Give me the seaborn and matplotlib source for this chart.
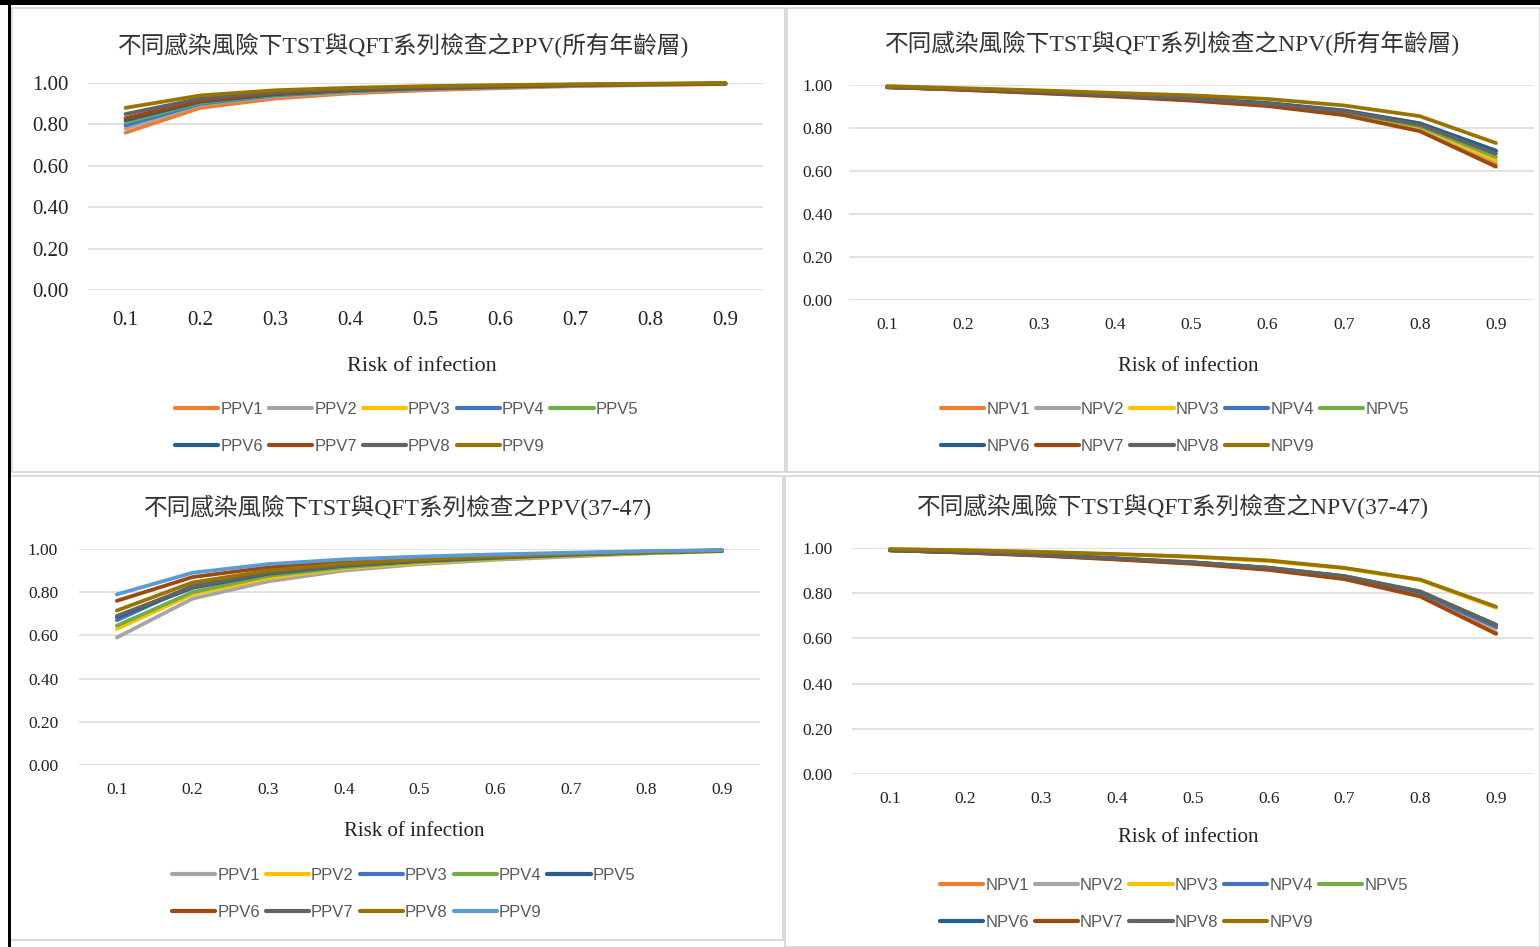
import numpy as np
import pandas as pd
import matplotlib
matplotlib.use("Agg")
import matplotlib.pyplot as plt
from matplotlib.lines import Line2D
import seaborn as sns

sns.set_theme(style="white")

# ---------------- data ----------------
risk = [0.1, 0.2, 0.3, 0.4, 0.5, 0.6, 0.7, 0.8, 0.9]
risk_labels = ["0.1", "0.2", "0.3", "0.4", "0.5", "0.6", "0.7", "0.8", "0.9"]
ytick_vals = [0.0, 0.2, 0.4, 0.6, 0.8, 1.0]

# PPV, all age groups
ppv_all = {
    "PPV1": [0.76, 0.88, 0.925, 0.95, 0.965, 0.975, 0.985, 0.99, 0.995],
    "PPV2": [0.78, 0.895, 0.935, 0.955, 0.97, 0.98, 0.987, 0.992, 0.996],
    "PPV3": [0.80, 0.90, 0.94, 0.96, 0.972, 0.98, 0.988, 0.993, 0.997],
    "PPV4": [0.795, 0.90, 0.94, 0.96, 0.972, 0.98, 0.988, 0.993, 0.997],
    "PPV5": [0.81, 0.905, 0.943, 0.962, 0.974, 0.982, 0.989, 0.994, 0.997],
    "PPV6": [0.82, 0.91, 0.945, 0.965, 0.975, 0.983, 0.99, 0.994, 0.997],
    "PPV7": [0.83, 0.915, 0.95, 0.967, 0.977, 0.985, 0.99, 0.995, 0.998],
    "PPV8": [0.85, 0.925, 0.955, 0.97, 0.98, 0.987, 0.992, 0.995, 0.998],
    "PPV9": [0.88, 0.94, 0.965, 0.977, 0.985, 0.99, 0.994, 0.997, 0.999],
}

# NPV, all age groups
npv_all = {
    "NPV1": [0.99, 0.978, 0.963, 0.948, 0.93, 0.905, 0.865, 0.79, 0.63],
    "NPV2": [0.99, 0.979, 0.965, 0.95, 0.932, 0.908, 0.87, 0.80, 0.645],
    "NPV3": [0.99, 0.979, 0.965, 0.95, 0.933, 0.91, 0.872, 0.805, 0.65],
    "NPV4": [0.99, 0.98, 0.967, 0.953, 0.937, 0.915, 0.88, 0.82, 0.69],
    "NPV5": [0.99, 0.98, 0.966, 0.951, 0.934, 0.911, 0.874, 0.808, 0.665],
    "NPV6": [0.99, 0.98, 0.967, 0.954, 0.938, 0.916, 0.882, 0.822, 0.695],
    "NPV7": [0.99, 0.977, 0.962, 0.946, 0.927, 0.902, 0.86, 0.785, 0.62],
    "NPV8": [0.99, 0.98, 0.967, 0.952, 0.936, 0.913, 0.878, 0.815, 0.68],
    "NPV9": [0.995, 0.985, 0.975, 0.963, 0.952, 0.935, 0.905, 0.855, 0.73],
}

# PPV, ages 37-47
ppv_3747 = {
    "PPV1": [0.59, 0.77, 0.85, 0.90, 0.93, 0.95, 0.965, 0.98, 0.99],
    "PPV2": [0.63, 0.79, 0.865, 0.91, 0.935, 0.955, 0.97, 0.98, 0.99],
    "PPV3": [0.67, 0.83, 0.89, 0.925, 0.945, 0.96, 0.975, 0.985, 0.993],
    "PPV4": [0.645, 0.80, 0.875, 0.915, 0.94, 0.957, 0.972, 0.982, 0.991],
    "PPV5": [0.685, 0.82, 0.885, 0.922, 0.945, 0.96, 0.974, 0.984, 0.992],
    "PPV6": [0.76, 0.87, 0.915, 0.94, 0.958, 0.97, 0.98, 0.988, 0.994],
    "PPV7": [0.69, 0.825, 0.888, 0.924, 0.946, 0.961, 0.975, 0.985, 0.992],
    "PPV8": [0.715, 0.845, 0.90, 0.932, 0.952, 0.965, 0.978, 0.986, 0.993],
    "PPV9": [0.79, 0.89, 0.93, 0.952, 0.965, 0.975, 0.983, 0.99, 0.995],
}

# NPV, ages 37-47
npv_3747 = {
    "NPV1": [0.99, 0.98, 0.967, 0.95, 0.932, 0.905, 0.865, 0.79, 0.625],
    "NPV2": [0.99, 0.98, 0.968, 0.952, 0.934, 0.908, 0.87, 0.80, 0.645],
    "NPV3": [0.995, 0.99, 0.982, 0.972, 0.96, 0.942, 0.91, 0.858, 0.735],
    "NPV4": [0.99, 0.98, 0.968, 0.952, 0.935, 0.91, 0.872, 0.80, 0.65],
    "NPV5": [0.99, 0.981, 0.969, 0.953, 0.936, 0.912, 0.874, 0.805, 0.66],
    "NPV6": [0.99, 0.981, 0.969, 0.953, 0.936, 0.912, 0.875, 0.806, 0.66],
    "NPV7": [0.99, 0.979, 0.966, 0.949, 0.93, 0.903, 0.862, 0.785, 0.62],
    "NPV8": [0.99, 0.981, 0.97, 0.954, 0.937, 0.913, 0.876, 0.808, 0.66],
    "NPV9": [0.995, 0.99, 0.983, 0.973, 0.962, 0.945, 0.912, 0.86, 0.74],
}

titles = [
    "不同感染風險下TST與QFT系列檢查之PPV(所有年齡層)",
    "不同感染風險下TST與QFT系列檢查之NPV(所有年齡層)",
    "不同感染風險下TST與QFT系列檢查之PPV(37-47)",
    "不同感染風險下TST與QFT系列檢查之NPV(37-47)",
]
xlabel_text = "Risk of infection"

# Office palette
pal_main = ["#ED7D31", "#A5A5A5", "#FFC000", "#4472C4", "#70AD47",
            "#255E91", "#9E480E", "#636363", "#997300"]
pal_age = ["#A5A5A5", "#FFC000", "#4472C4", "#70AD47", "#255E91",
           "#9E480E", "#636363", "#997300", "#5B9BD5"]

# ---------------- layout ----------------
W, H = 1540, 947
fig = plt.figure(figsize=(W / 100, H / 100), dpi=100)
fig.patch.set_facecolor("white")

def fx(px):
    return px / W

def fy(py):
    return 1 - py / H

serif = ["Liberation Serif", "Noto Sans CJK TC", "DejaVu Serif"]
sans = ["Liberation Sans", "DejaVu Sans"]

# panel frames (kept behind the axes)
for (x0, y0, x1, y1) in [(12, 8, 785, 472), (787, 8, 1540, 472),
                         (10, 476, 783, 940), (785, 476, 1540, 947)]:
    fig.patches.append(plt.Rectangle((fx(x0), fy(y1)), fx(x1 - x0), (y1 - y0) / H,
                                     transform=fig.transFigure, facecolor="white",
                                     edgecolor="#D4D4D4", linewidth=1.2, zorder=-5))
# outer dark border
fig.patches.append(plt.Rectangle((0, fy(5)), 1, 5 / H, transform=fig.transFigure,
                                 facecolor="black", edgecolor="none", zorder=-4))
fig.patches.append(plt.Rectangle((fx(8), 0), fx(3), fy(5), transform=fig.transFigure,
                                 facecolor="black", edgecolor="none", zorder=-4))

panels = [
    dict(data=ppv_all, pal=pal_main, box=(88, 763, 83, 290), title_y=45, title_x=404,
         title_fs=17, tick_fs=15, ypad=14, xpad=15, xlab_y=366, xlab_x=422, xlab_fs=16,
         leg_x=175, leg_y=411),
    dict(data=npv_all, pal=pal_main, box=(849, 1534, 85, 300), title_y=43, title_x=1173,
         title_fs=17, tick_fs=12.5, ypad=12, xpad=12.5, xlab_y=366, xlab_x=1188, xlab_fs=15,
         leg_x=941, leg_y=411),
    dict(data=ppv_3747, pal=pal_age, box=(79, 760, 549, 765), title_y=507, title_x=398,
         title_fs=17, tick_fs=12.5, ypad=15, xpad=12.5, xlab_y=831, xlab_x=414, xlab_fs=15,
         leg_x=172, leg_y=877),
    dict(data=npv_3747, pal=pal_main, box=(852, 1534, 548, 774), title_y=506, title_x=1173,
         title_fs=17, tick_fs=12.5, ypad=14, xpad=12.5, xlab_y=837, xlab_x=1188, xlab_fs=15,
         leg_x=940, leg_y=887),
]

for p, title in zip(panels, titles):
    l, r, t, b = p["box"]
    ax = fig.add_axes([fx(l), fy(b), fx(r - l), (b - t) / H])
    ax.set_facecolor("none")
    names = list(p["data"].keys())
    df = pd.DataFrame({
        "risk": np.tile(risk, len(names)),
        "value": np.concatenate([p["data"][n] for n in names]),
        "series": np.repeat(names, len(risk)),
    })
    sns.lineplot(data=df, x="risk", y="value", hue="series", hue_order=names,
                 palette=p["pal"], linewidth=2.7, ax=ax, legend=False,
                 estimator=None, sort=False)
    for ln in ax.lines:
        ln.set_clip_on(False)
        ln.set_solid_joinstyle("miter")
        ln.set_zorder(3)
    ax.set_xlim(0.05, 0.95)
    ax.set_ylim(0, 1.0)
    ax.set_xticks(risk)
    ax.set_xticklabels(risk_labels, fontfamily=serif, fontsize=p["tick_fs"], color="#222222")
    ax.set_yticks(ytick_vals)
    ax.set_yticklabels([f"{v:.2f}" for v in ytick_vals], fontfamily=serif,
                       fontsize=p["tick_fs"], color="#222222")
    ax.tick_params(axis="y", length=0, pad=p["ypad"])
    ax.tick_params(axis="x", length=0, pad=p["xpad"])
    ax.grid(axis="y", color="#D9D9D9", linewidth=1.1)
    ax.grid(axis="x", visible=False)
    ax.set_axisbelow(True)
    for s in ax.spines.values():
        s.set_visible(False)
    ax.set_xlabel("")
    ax.set_ylabel("")

    fig.text(fx(p["title_x"]), fy(p["title_y"]), title, ha="center", va="center",
             fontsize=p["title_fs"], family=serif, color="#333333")
    fig.text(fx(p["xlab_x"]), fy(p["xlab_y"]), xlabel_text, ha="center", va="center",
             fontsize=p["xlab_fs"], family=serif, color="#222222")

    # legend: 5 items on first row, 4 on second, filled row by row
    handles = [Line2D([], [], color=c, linewidth=3) for c in p["pal"]]
    order = [0, 5, 1, 6, 2, 7, 3, 8, 4]
    leg = fig.legend([handles[i] for i in order], [names[i] for i in order],
                     ncol=5, loc="upper left",
                     bbox_to_anchor=(fx(p["leg_x"]), fy(p["leg_y"] - 9)),
                     bbox_transform=fig.transFigure, frameon=False, borderpad=0,
                     borderaxespad=0, handlelength=2.6, handletextpad=0.12,
                     columnspacing=0.35, labelspacing=1.3,
                     prop={"family": sans, "size": 12})
    for txt in leg.get_texts():
        txt.set_color("#595959")

fig.savefig("out.png", dpi=100, facecolor="white")
